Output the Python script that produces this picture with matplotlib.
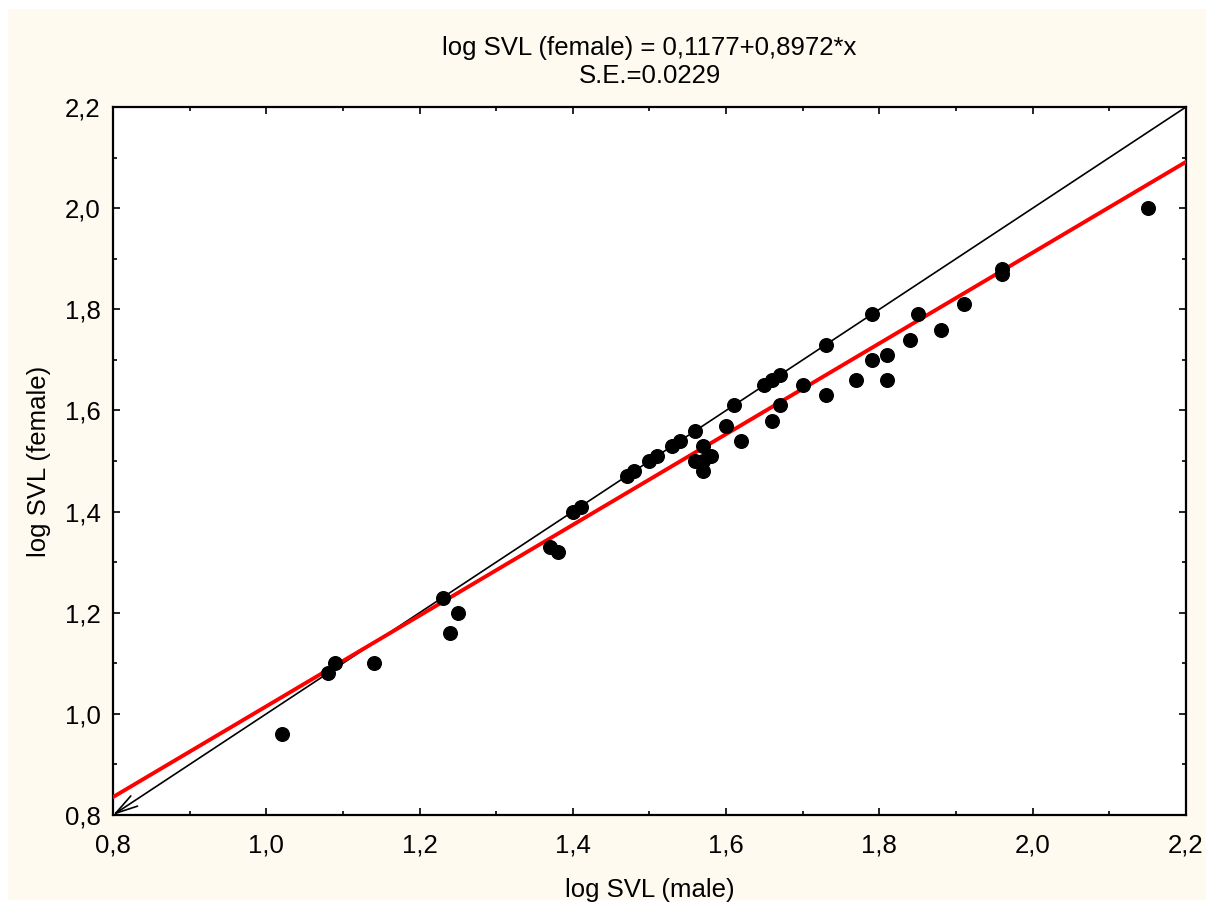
import matplotlib
matplotlib.use("Agg")
import matplotlib.pyplot as plt
from matplotlib.patches import Rectangle
from matplotlib.ticker import MultipleLocator, FuncFormatter
import numpy as np

plt.rcParams['font.family'] = ['Liberation Sans', 'DejaVu Sans']

# log SVL male / female
male = [1.02, 1.08, 1.09, 1.14, 1.23, 1.24, 1.25, 1.37, 1.38, 1.40,
        1.41, 1.47, 1.48, 1.50, 1.51, 1.53, 1.54, 1.56, 1.56, 1.57,
        1.57, 1.57, 1.58, 1.60, 1.61, 1.62, 1.65, 1.66, 1.66, 1.67,
        1.67, 1.70, 1.73, 1.73, 1.77, 1.79, 1.79, 1.81, 1.81, 1.84,
        1.85, 1.88, 1.91, 1.96, 1.96, 2.15]
female = [0.96, 1.08, 1.10, 1.10, 1.23, 1.16, 1.20, 1.33, 1.32, 1.40,
          1.41, 1.47, 1.48, 1.50, 1.51, 1.53, 1.54, 1.56, 1.50, 1.53,
          1.50, 1.48, 1.51, 1.57, 1.61, 1.54, 1.65, 1.66, 1.58, 1.67,
          1.61, 1.65, 1.73, 1.63, 1.66, 1.79, 1.70, 1.71, 1.66, 1.74,
          1.79, 1.76, 1.81, 1.88, 1.87, 2.00]

intercept = 0.1177
slope = 0.8972
lims = (0.8, 2.2)
fs = 18.5

fig = plt.figure(figsize=(12.14, 9.08), dpi=100)
fig.patch.set_facecolor('white')
fig.patches.append(Rectangle((8 / 1214, 8 / 908), 1 - 16 / 1214, 1 - 17 / 908,
                             transform=fig.transFigure, facecolor='#fefaf0',
                             edgecolor='none', zorder=-10))

ax = fig.add_axes([113 / 1214, 93 / 908, 1073 / 1214, 708 / 908])
ax.set_facecolor('white')

xs = np.array(lims)
ax.plot(xs, intercept + slope * xs, color='#ff0000', lw=2.8, zorder=3)
# y = x reference line with the arrow tip at the lower left corner
ax.annotate('', xy=(lims[0], lims[0]), xytext=(lims[1], lims[1]),
            arrowprops=dict(arrowstyle='->, head_length=0.8, head_width=0.22',
                            color='black', lw=1.2,
                            mutation_scale=20, shrinkA=0, shrinkB=0),
            zorder=2)
ax.plot(male, female, 'o', color='black', ms=9.8, zorder=4)

ax.set_xlim(*lims)
ax.set_ylim(*lims)
for a in (ax.xaxis, ax.yaxis):
    a.set_major_locator(MultipleLocator(0.2))
    a.set_minor_locator(MultipleLocator(0.1))
    a.set_major_formatter(FuncFormatter(lambda v, p: f"{v:.1f}".replace('.', ',')))

ax.tick_params(which='both', direction='in', top=True, right=True,
               labelsize=fs, width=1.2)
ax.tick_params(which='major', length=5)
ax.tick_params(which='minor', length=3)
ax.tick_params(axis='x', pad=13)
ax.tick_params(axis='y', pad=9)
for s in ax.spines.values():
    s.set_linewidth(1.6)

ax.set_xlabel('log SVL (male)', fontsize=fs, labelpad=15)
ax.set_ylabel('log SVL (female)', fontsize=fs, labelpad=10)
ax.set_title('log SVL (female) = 0,1177+0,8972*x\nS.E.=0.0229',
             fontsize=fs, pad=17, linespacing=1.25)

fig.savefig('out.png', dpi=100)
